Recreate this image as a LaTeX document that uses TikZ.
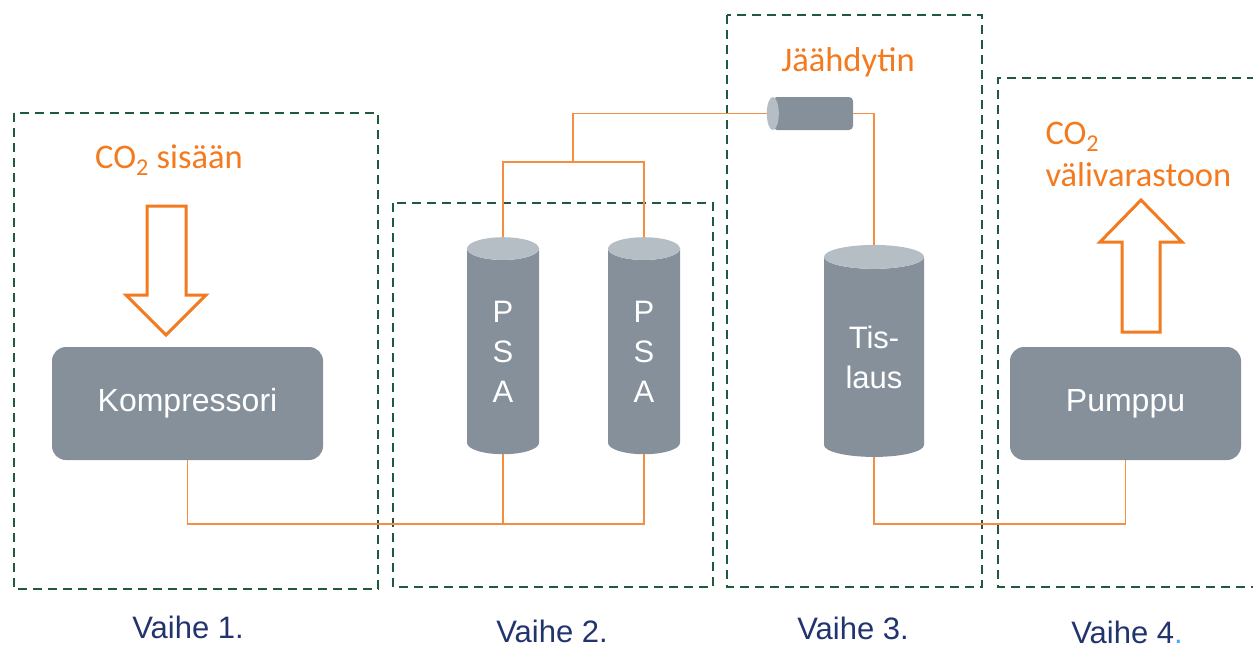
\documentclass[tikz,border=0pt]{standalone}
\usepackage{fontspec}
\setmainfont{Liberation Sans}
\newfontfamily\calibri{Carlito}
\usetikzlibrary{shapes.geometric}
\definecolor{unitgray}{HTML}{85909B}
\definecolor{capgray}{HTML}{B6BEC5}
\definecolor{flow}{HTML}{F47A1F}
\definecolor{stage}{HTML}{1F5B3A}
\definecolor{navy}{HTML}{22346E}
\definecolor{dotblue}{HTML}{3FA9F5}
\begin{document}
\begin{tikzpicture}[
        x=1pt, y=-1pt,
        unit/.style={rectangle, rounded corners=14pt, fill=unitgray, text=white, font=\fontsize{32}{36}\selectfont, minimum width=271pt, minimum height=113pt},
        column/.style={cylinder, shape border rotate=90, aspect=1.1, cylinder uses custom fill, cylinder body fill=unitgray, cylinder end fill=capgray, text=white, align=center, inner sep=0pt, font=\fontsize{31}{40}\selectfont},
        stagebox/.style={draw=stage, line width=2.7pt, dash pattern=on 9pt off 6pt},
        pipe/.style={draw=flow!85, line width=1.6pt},
        bigarrow/.style={draw=flow, line width=3pt, fill=white, line join=miter},
        note/.style={text=flow, font=\calibri\fontsize{34.5}{42}\selectfont, align=left},
        phase/.style={text=navy, anchor=base, font=\fontsize{31}{34}\selectfont}
    ]
        \useasboundingbox (0,0) rectangle (1253,648);

        % Stage frames
        \draw[stagebox] (14,113) rectangle (378,589);
        \draw[stagebox] (393,203) rectangle (713,587);
        \draw[stagebox] (727,15) rectangle (982,587);
        \draw[stagebox] (1256,78) -- (998,78) -- (998,587) -- (1256,587);

        % Units
        \node[unit] (komp) at (187.5,403.5) {Kompressori};
        \node[unit, minimum width=231pt] (pump) at (1125.5,403.5) {Pumppu};
        \node[column, minimum width=72pt, minimum height=217pt] (psa1) at (503,351.5) {P\\S\\A};
        \node[column, minimum width=72pt, minimum height=217pt] (psa2) at (644,351.5) {P\\S\\A};
        \node[column, aspect=0.42, minimum width=100pt, minimum height=212pt] (tis) at (874,357) {Tis-\\laus};
        \node[rectangle, fill=unitgray, rounded corners=4pt, minimum width=80pt, minimum height=33pt, inner sep=0pt] (cooler) at (813,113.5) {};
        \fill[capgray] (cooler.west) ellipse (6 and 16.5);

        % Pipes
        \coordinate (low) at (503,524);
        \coordinate (low2) at (874,524);
        \coordinate (high) at (573,162);
        \draw[pipe] (komp.south) |- (low) -| (psa2.south);
        \draw[pipe] (psa1.south) -- (low);
        \draw[pipe] (psa1.north) |- (high) -| (psa2.north);
        \draw[pipe] (high) |- ([xshift=-6pt]cooler.west);
        \draw[pipe] (cooler.east) -| (tis.north);
        \draw[pipe] (tis.south) -- (low2) -| (pump.south);

        % CO2 in and out
        \draw[bigarrow] (147,206) -- (186,206) -- (186,295) -- (206,295) -- (166,335) -- (126,295) -- (147,295) -- cycle;
        \draw[bigarrow] (1122,332) -- (1160,332) -- (1160,242) -- (1182,242) -- (1141,200) -- (1100,242) -- (1122,242) -- cycle;

        % Labels
        \node[note] (inlabel) at (169,160) {CO\textsubscript{2} sisään};
        \node[note] (coollabel) at (848,62) {Jäähdytin};
        \node[note, anchor=west] (outlabel) at (1042,154) {CO\textsubscript{2}\\välivarastoon};
        \node[phase] (ph1) at (188,638) {Vaihe 1.};
        \node[phase] (ph2) at (552,642) {Vaihe 2.};
        \node[phase] (ph3) at (853,639) {Vaihe 3.};
        \node[phase] (ph4) at (1127,643) {Vaihe 4\textcolor{dotblue}{.}};

\end{tikzpicture}
\end{document}
